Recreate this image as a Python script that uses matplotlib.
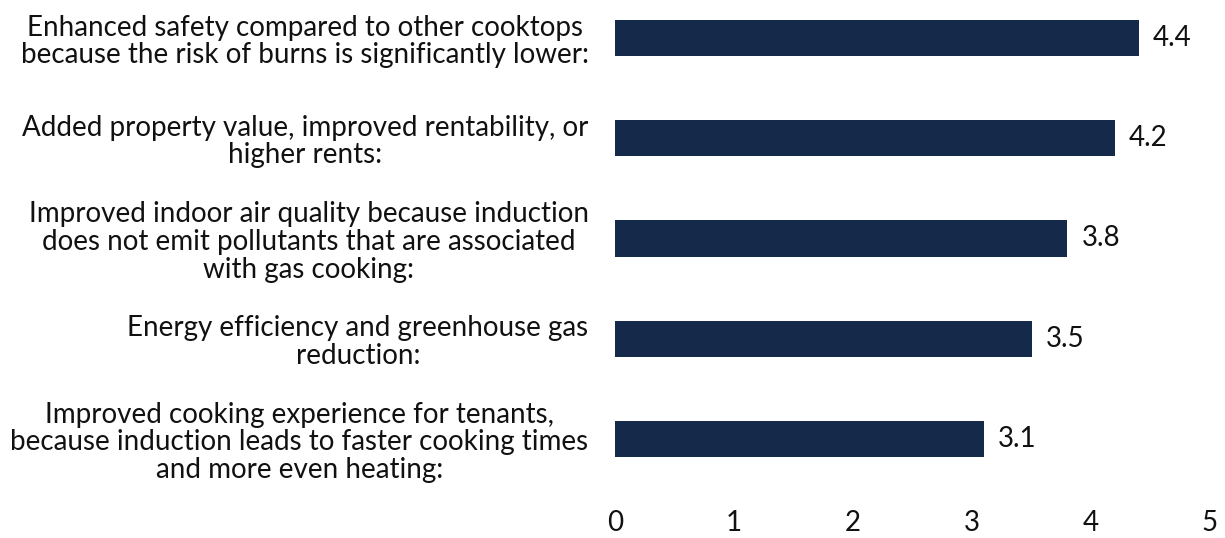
import matplotlib

matplotlib.use("Agg")
import matplotlib.pyplot as plt

CATEGORIES = [
    "Enhanced safety compared to other cooktops\nbecause the risk of burns is significantly lower:",
    "Added property value, improved rentability, or\nhigher rents:",
    "Improved indoor air quality because induction\ndoes not emit pollutants that are associated\nwith gas cooking:",
    "Energy efficiency and greenhouse gas\nreduction:",
    "Improved cooking experience for tenants,\nbecause induction leads to faster cooking times\nand more even heating:",
]
SCORES = [4.4, 4.2, 3.8, 3.5, 3.1]
X_TICKS = [0, 1, 2, 3, 4, 5]

BAR_COLOR = "#15294a"
TEXT_COLOR = "#111111"
FS = 20

plt.rcParams["font.family"] = ["Lato", "DejaVu Sans"]

fig = plt.figure(figsize=(12.25, 5.38), dpi=100)
ax = fig.add_axes([615 / 1225, 1 - 489 / 538, 595 / 1225, 489 / 538])

y = list(range(len(CATEGORIES)))
ax.barh(y, SCORES, height=0.36, color=BAR_COLOR)
for yi, v in zip(y, SCORES):
    ax.text(v + 0.12, yi, f"{v:.1f}", va="center", ha="left", fontsize=FS, color=TEXT_COLOR)

ax.set_xlim(0, 5)
ax.set_ylim(4.5, -0.38)
ax.set_xticks(X_TICKS)
ax.set_xticklabels([str(t) for t in X_TICKS], fontsize=FS, color=TEXT_COLOR)
ax.set_yticks(y)
ax.set_yticklabels(CATEGORIES, fontsize=FS, color=TEXT_COLOR, ma="center", linespacing=1.08)
ax.tick_params(axis="both", length=0)
ax.tick_params(axis="x", pad=15)
ax.tick_params(axis="y", pad=19)
for spine in ax.spines.values():
    spine.set_visible(False)

fig.savefig("out.png", dpi=100)
